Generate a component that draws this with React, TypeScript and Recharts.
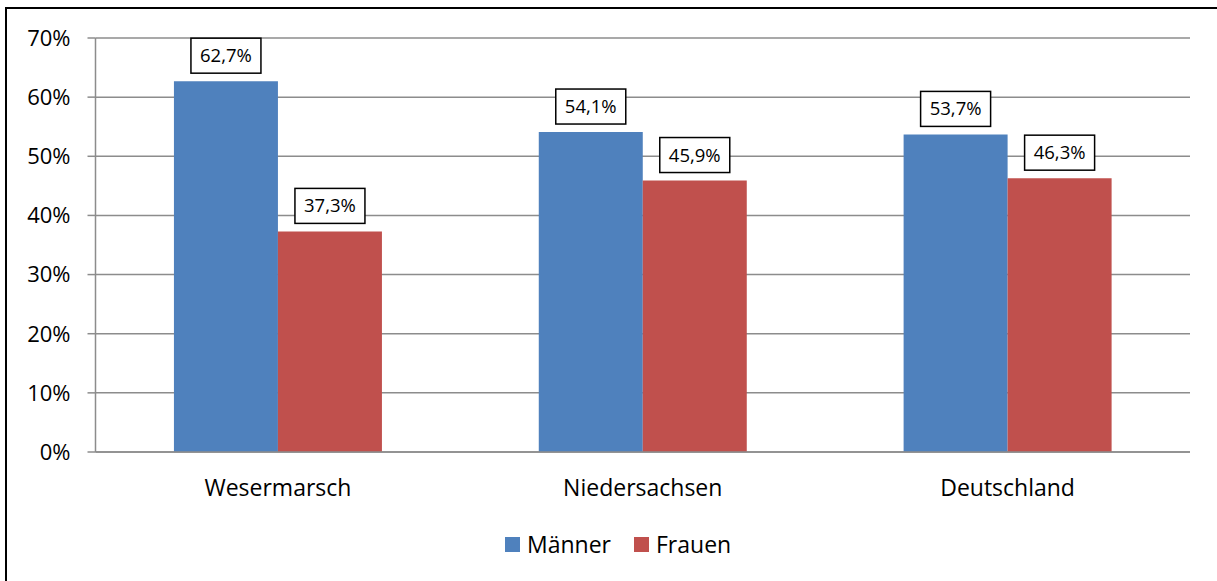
import { Bar, BarChart, CartesianGrid, LabelList, Legend, XAxis, YAxis } from 'recharts';

const regions = ['Wesermarsch', 'Niedersachsen', 'Deutschland'];
const maenner = [62.7, 54.1, 53.7];
const frauen = [37.3, 45.9, 46.3];
const yTicks = [0, 10, 20, 30, 40, 50, 60, 70];
const boundaryTicks = [0, 1, 2, 3];

const COLORS = {
  maenner: '#4F81BD',
  frauen: '#C0504D',
  axis: '#8C8C8C',
};

const FONT = '"Open Sans", sans-serif';

const data = regions.map((name, i) => ({ name, idx: i + 0.5, maenner: maenner[i], frauen: frauen[i] }));

const fmt = (v: number) => `${v.toFixed(1).replace('.', ',')}%`;

// Beschriftung als Kasten über dem Balken
function BoxLabel(props: any) {
  const { x, y, width, value } = props;
  const cx = Number(x) + Number(width) / 2;
  const bw = 70;
  const bh = 35;
  const top = Number(y) - 8 - bh;
  return (
    <g>
      <rect x={cx - bw / 2} y={top} width={bw} height={bh} fill="#fff" stroke="#000" strokeWidth={1.5} />
      <text x={cx} y={top + bh / 2} dy="0.35em" textAnchor="middle" fontSize={18.5} fontFamily={FONT} fill="#000">
        {fmt(value)}
      </text>
    </g>
  );
}

function LegendContent() {
  const items = [
    { label: 'Männer', color: COLORS.maenner },
    { label: 'Frauen', color: COLORS.frauen },
  ];
  return (
    <div style={{ display: 'flex', alignItems: 'center', height: 28, fontFamily: FONT, fontSize: 23, color: '#000' }}>
      {items.map((it, i) => (
        <div key={it.label} style={{ display: 'flex', alignItems: 'center', marginRight: i === 0 ? 23 : 0 }}>
          <span style={{ display: 'inline-block', width: 15, height: 15, background: it.color, marginRight: 7 }} />
          <span>{it.label}</span>
        </div>
      ))}
    </div>
  );
}

export default function App() {
  return (
    <div style={{ position: 'fixed', left: 0, top: 0, width: 1217, height: 581, background: '#fff', overflow: 'hidden' }}>
      <div
        style={{
          position: 'absolute',
          left: 5,
          top: 7,
          width: 1400,
          height: 800,
          borderLeft: '2px solid #000',
          borderTop: '2px solid #000',
        }}
      />
      <div style={{ position: 'absolute', left: 0, top: 0 }}>
        <BarChart
          width={1217}
          height={581}
          data={data}
          margin={{ top: 38, right: 27, bottom: 69, left: 0 }}
          barCategoryGap="21.5%"
          barGap={0}
        >
          <CartesianGrid vertical={false} stroke={COLORS.axis} strokeWidth={1.5} />
          <XAxis
            xAxisId="edges"
            type="number"
            dataKey="idx"
            domain={[0, 3]}
            ticks={boundaryTicks}
            allowDataOverflow
            height={0}
            axisLine={false}
            tickSize={9}
            tickLine={{ stroke: COLORS.axis, strokeWidth: 1.5 }}
            tick={() => <g />}
          />
          <XAxis
            dataKey="name"
            height={60}
            axisLine={{ stroke: COLORS.axis, strokeWidth: 1.5 }}
            tickLine={false}
            tickSize={0}
            tickMargin={28}
            tick={{ fontSize: 23, fontFamily: FONT, fill: '#000' }}
          />
          <YAxis
            width={95.5}
            domain={[0, 70]}
            ticks={yTicks}
            tickFormatter={(v) => `${v}%`}
            axisLine={{ stroke: COLORS.axis, strokeWidth: 1.5 }}
            tickLine={{ stroke: COLORS.axis, strokeWidth: 1.5 }}
            tickSize={8}
            tickMargin={17}
            tick={{ fontSize: 22, fontFamily: FONT, fill: '#000' }}
          />
          <Legend
            layout="horizontal"
            verticalAlign="middle"
            align="center"
            wrapperStyle={{ top: 530, left: 505, width: 'auto' }}
            content={() => <LegendContent />}
          />
          <Bar dataKey="maenner" name="Männer" fill={COLORS.maenner} isAnimationActive={false}>
            <LabelList dataKey="maenner" content={BoxLabel} />
          </Bar>
          <Bar dataKey="frauen" name="Frauen" fill={COLORS.frauen} isAnimationActive={false}>
            <LabelList dataKey="frauen" content={BoxLabel} />
          </Bar>
        </BarChart>
      </div>
    </div>
  );
}
